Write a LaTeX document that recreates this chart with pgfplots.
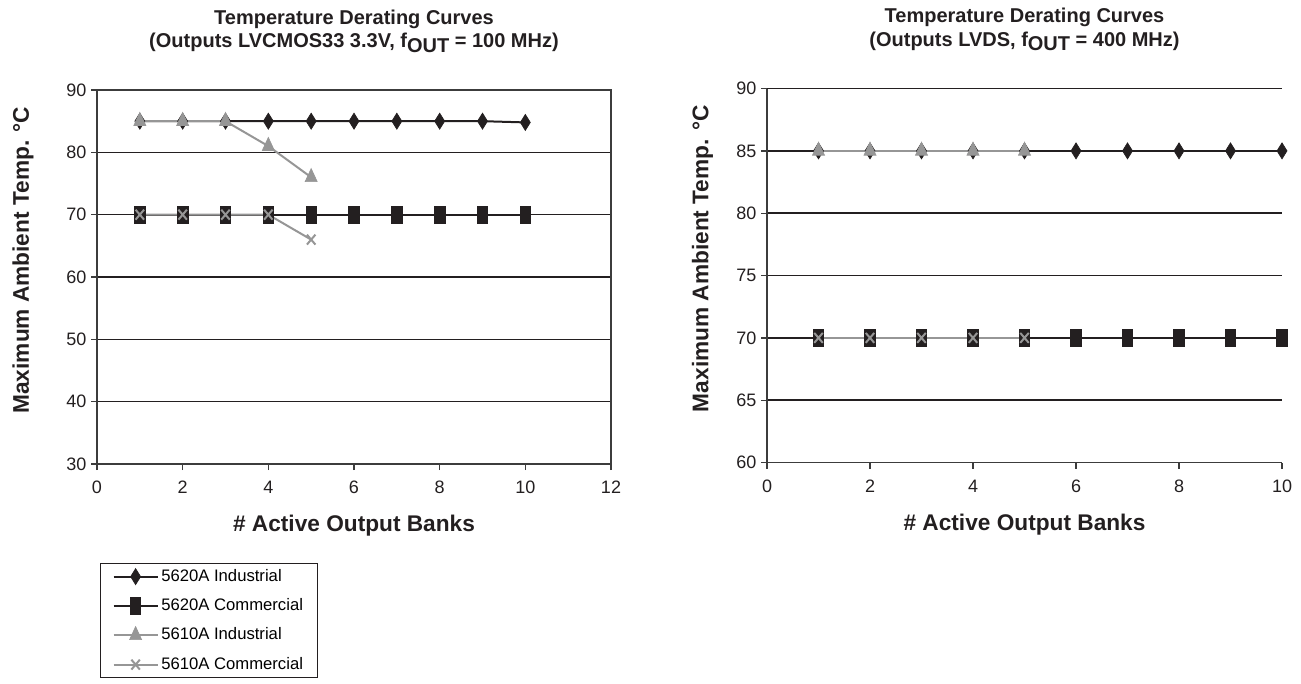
\documentclass[border=0pt]{standalone}
\usepackage{fontspec}
\setmainfont{Liberation Sans}
\usepackage{pgfplots}
\pgfplotsset{compat=1.18}
\definecolor{dk}{RGB}{35,31,32}
\definecolor{lg}{RGB}{150,150,150}
\definecolor{ax}{RGB}{60,60,60}

\pgfplotsset{
  common/.style={
    scale only axis, height=280.5pt,
    tick align=outside, tick pos=left, major tick length=4.5pt,
    ymajorgrids, grid style={dk, line width=1.1pt},
    axis line style={ax,line width=1.2pt},
    every tick/.style={ax, line width=1pt},
    /pgf/number format/assume math mode=true,
    ticklabel style={font=\fontsize{13.5}{16}\selectfont, color=dk},
    xticklabel style={yshift=-5pt},
    label style={font=\bfseries\fontsize{17}{20}\selectfont, color=dk},
    xlabel={\# Active Output Banks},
    ylabel={Maximum Ambient Temp. °C},
    xlabel style={at={(axis description cs:0.5,-0.165)},anchor=center},
    ylabel style={at={(axis description cs:-0.144,0.545)},anchor=center},
    title style={align=center, font=\bfseries\fontsize{15}{17.5}\selectfont, color=dk,
      at={(axis description cs:0.5,1)}, anchor=south, inner sep=0pt, yshift=22pt},
    clip=false,
  },
  s1/.style={dk, line width=1.5pt, mark=diamond*, mark size=6pt, mark options={xscale=0.83, solid, fill=dk, line width=0.5pt}},
  s2/.style={dk, line width=1.5pt, mark=square*, mark size=3.9pt, mark options={yscale=1.6, solid, fill=dk, line width=0.5pt}},
  s3/.style={lg, line width=1.5pt, mark=triangle*, mark size=5.2pt, mark options={yscale=1.25, solid, fill=lg, line width=0.5pt}},
  s4/.style={lg, line width=1.5pt, mark=x, mark size=4.5pt, mark options={yscale=1.17, solid, line width=1.5pt}},
}

\begin{document}
\begin{tikzpicture}
\useasboundingbox (0,0) rectangle (975.75pt,-512.25pt);

% Left chart
\begin{axis}[common,
  at={(72.75pt,-348pt)}, anchor=south west,
  width=385.5pt,
  xmin=0, xmax=12, ymin=30, ymax=90,
  xtick={0,2,4,6,8,10,12}, ytick={30,40,50,60,70,80,90},
  title={Temperature Derating Curves\\(Outputs LVCMOS33 3.3V, f\raisebox{-3.4pt}{OUT} = 100 MHz)},
  legend style={at={(axis description cs:0.006,-0.264)}, anchor=north west,
    draw=dk, line width=0.8pt, font=\fontsize{12.5}{15}\selectfont,
    cells={anchor=west}, row sep=6pt, inner xsep=9pt, inner ysep=2pt,
    nodes={text height=9.5pt, text depth=2.5pt, inner ysep=2pt}},
  legend image code/.code={\draw[mark repeat=2,mark phase=2,#1] plot coordinates {(0pt,0pt) (16.5pt,0pt) (33pt,0pt)};},
]
\addplot[s1] coordinates {(1,85) (2,85) (3,85) (4,85) (5,85) (6,85) (7,85) (8,85) (9,85) (10,84.8)};
\addlegendentry{5620A Industrial}
\addplot[s2] coordinates {(1,70) (2,70) (3,70) (4,70) (5,70) (6,70) (7,70) (8,70) (9,70) (10,70)};
\addlegendentry{5620A Commercial}
\addplot[s3] coordinates {(1,85) (2,85) (3,85) (4,81) (5,76)};
\addlegendentry{5610A Industrial}
\addplot[s4] coordinates {(1,70) (2,70) (3,70) (4,70) (5,66)};
\addlegendentry{5610A Commercial}
\end{axis}

% Right chart
\begin{axis}[common,
  at={(575.25pt,-346.9pt)}, anchor=south west,
  width=386.25pt,
  axis x line*=bottom, axis y line*=left,
  xmin=0, xmax=10, ymin=60, ymax=90,
  xtick={0,2,4,6,8,10}, ytick={60,65,70,75,80,85,90},
  ylabel style={at={(axis description cs:-0.125,0.545)},anchor=center},
  title={Temperature Derating Curves\\(Outputs LVDS, f\raisebox{-3.4pt}{OUT} = 400 MHz)},
]
\addplot[s1] coordinates {(1,85) (2,85) (3,85) (4,85) (5,85) (6,85) (7,85) (8,85) (9,85) (10,85)};
\addplot[s2] coordinates {(1,70) (2,70) (3,70) (4,70) (5,70) (6,70) (7,70) (8,70) (9,70) (10,70)};
\addplot[s3] coordinates {(1,85) (2,85) (3,85) (4,85) (5,85)};
\addplot[s4] coordinates {(1,70) (2,70) (3,70) (4,70) (5,70)};
\end{axis}
\end{tikzpicture}
\end{document}
